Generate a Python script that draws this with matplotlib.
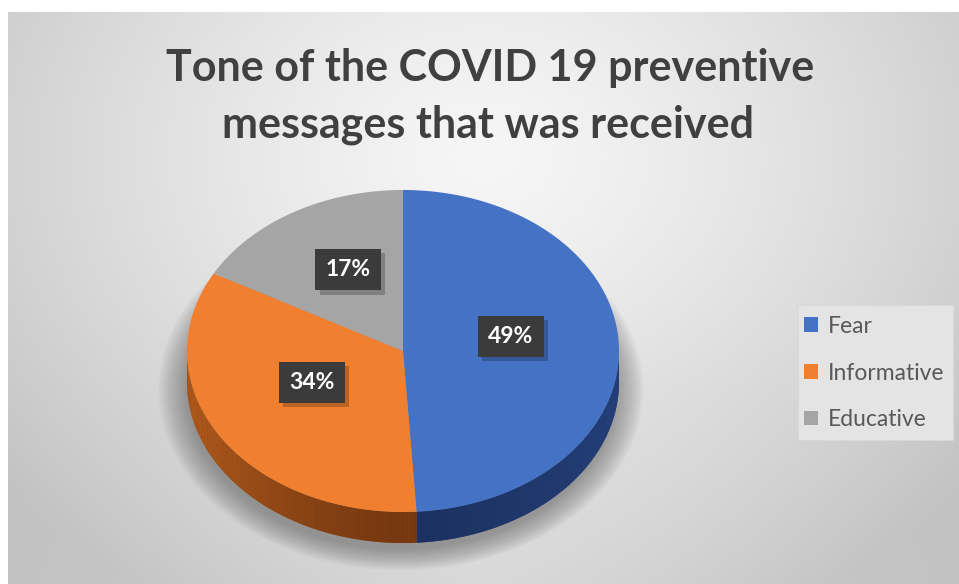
import numpy as np
import matplotlib.pyplot as plt
import matplotlib.patheffects as pe
from matplotlib.collections import PolyCollection
from matplotlib.patches import Ellipse, Patch, Rectangle
from matplotlib.colors import to_rgb

# data
categories = ['Fear', 'Informative', 'Educative']
shares = [49, 34, 17]
labels = ['49%', '34%', '17%']

top_colors = ['#4472C4', '#F0802F', '#A5A5A5']
side_dark = ['#1b3160', '#763810', '#5a5a5a']
side_light = ['#24407a', '#b05a1c', '#8a8a8a']

W, H = 959, 584
fig = plt.figure(figsize=(W / 100, H / 100), dpi=100)
fig.patch.set_facecolor('white')

# gradient backdrop
bg = fig.add_axes([8 / W, 0, 1 - 8 / W, 1 - 12 / H])
bg.set_axis_off()
yy, xx = np.mgrid[0:300, 0:500]
d = np.sqrt(((xx - 250) / 330.0) ** 2 + ((yy - 75) / 260.0) ** 2)
shade = np.clip(0.965 - 0.20 * d ** 1.3, 0.76, 0.97)
shade += 0.05 * np.clip((yy - 200) / 100.0, 0, 1) * np.clip(1 - np.abs(xx - 250) / 260.0, 0, 1)
bg.imshow(np.dstack([shade] * 3), aspect='auto', extent=[0, 1, 0, 1], interpolation='bilinear')
bg.set_xlim(0, 1)
bg.set_ylim(0, 1)

# pie in pixel-scaled units (1 unit = pie radius)
cx, cy, R = 403, 351, 216
tilt = 161 / 216
depth = 31 / 216
ax = fig.add_axes([0, 0, 1, 1])
ax.set_xlim(-cx / R, (W - cx) / R)
ax.set_ylim(-(H - cy) / R, cy / R)
ax.set_axis_off()
ax.patch.set_alpha(0)

# soft shadow under the pie
for k in range(20):
    s = 0.99 + 0.007 * k
    ax.add_patch(Ellipse((-0.01, -depth - 0.035), 2 * s, 2 * tilt * s,
                         facecolor='#606060', edgecolor='none', alpha=0.035, zorder=1))

fracs = np.array(shares, dtype=float) / sum(shares)
bounds = 90 - 360 * np.concatenate([[0], np.cumsum(fracs)])  # clockwise from 12 o'clock

# side walls: only the front half (sin < 0) is visible
for i in range(len(shares)):
    a0, a1 = bounds[i], bounds[i + 1]
    lo, hi = max(min(a0, a1), -180), min(max(a0, a1), 0)
    if hi <= lo:
        continue
    t = np.radians(np.linspace(lo, hi, 90))
    c_dark, c_light = np.array(to_rgb(side_dark[i])), np.array(to_rgb(side_light[i]))
    # solid base so the shaded strips leave no seams
    xs = np.concatenate([np.cos(t), np.cos(t[::-1])])
    ys = np.concatenate([tilt * np.sin(t), tilt * np.sin(t[::-1]) - depth])
    ax.fill(xs, ys, color=(c_dark + c_light) / 2, linewidth=0, zorder=2)
    polys, cols = [], []
    for j in range(len(t) - 1):
        xa, xb = np.cos(t[j]), np.cos(t[j + 1])
        ya, yb = tilt * np.sin(t[j]), tilt * np.sin(t[j + 1])
        polys.append([(xa, ya), (xb, yb), (xb, yb - depth), (xa, ya - depth)])
        light = np.abs(np.cos((t[j] + t[j + 1]) / 2)) ** 1.5
        cols.append(c_dark + (c_light - c_dark) * light)
    ax.add_collection(PolyCollection(polys, facecolors=cols, edgecolors='none', zorder=2.5))

# top face
for i in range(len(shares)):
    t = np.radians(np.linspace(bounds[i], bounds[i + 1], 200))
    xs = np.concatenate([[0], np.cos(t), [0]])
    ys = np.concatenate([[0], tilt * np.sin(t), [0]])
    ax.fill(xs, ys, color=top_colors[i], linewidth=0, zorder=3)

# data labels in dark boxes with a drop shadow
for i in range(len(shares)):
    mid = np.radians((bounds[i] + bounds[i + 1]) / 2)
    lx, ly = 0.5 * np.cos(mid), 0.5 * tilt * np.sin(mid) + 0.055
    txt = ax.text(lx, ly, labels[i], fontsize=16.5, fontweight='bold', family='Lato',
                  color='white', ha='center', va='center', zorder=5,
                  bbox=dict(boxstyle='square,pad=0.44', facecolor='#3b3b3b', edgecolor='none'))
    txt.get_bbox_patch().set_path_effects(
        [pe.SimplePatchShadow(offset=(3, -3), shadow_rgbFace='black', alpha=0.22), pe.Normal()])

# title
fig.text(490 / W, 1 - 68 / H, 'Tone of the COVID 19 preventive', fontsize=31, fontweight='bold',
         family='Lato', color='#404040', ha='center', va='center')
fig.text(488 / W, 1 - 125 / H, 'messages that was received', fontsize=31, fontweight='bold',
         family='Lato', color='#404040', ha='center', va='center')

# legend
fig.patches.append(Rectangle((798 / W, 1 - 440 / H), 155 / W, 135 / H, transform=fig.transFigure,
                             facecolor='#e4e4e4', edgecolor='#d8d8d8', linewidth=0.6, zorder=0.5))
handles = [Patch(facecolor=c, edgecolor='none') for c in top_colors]
leg = fig.legend(handles, categories, loc='center left', bbox_to_anchor=(804 / W, 1 - 373 / H),
                 frameon=False, borderpad=0, borderaxespad=0,
                 prop={'family': 'Lato', 'size': 16.5}, labelcolor='#595959',
                 handlelength=0.6, handleheight=0.6, handletextpad=0.45, labelspacing=1.12)

fig.savefig('out.png', dpi=100)
